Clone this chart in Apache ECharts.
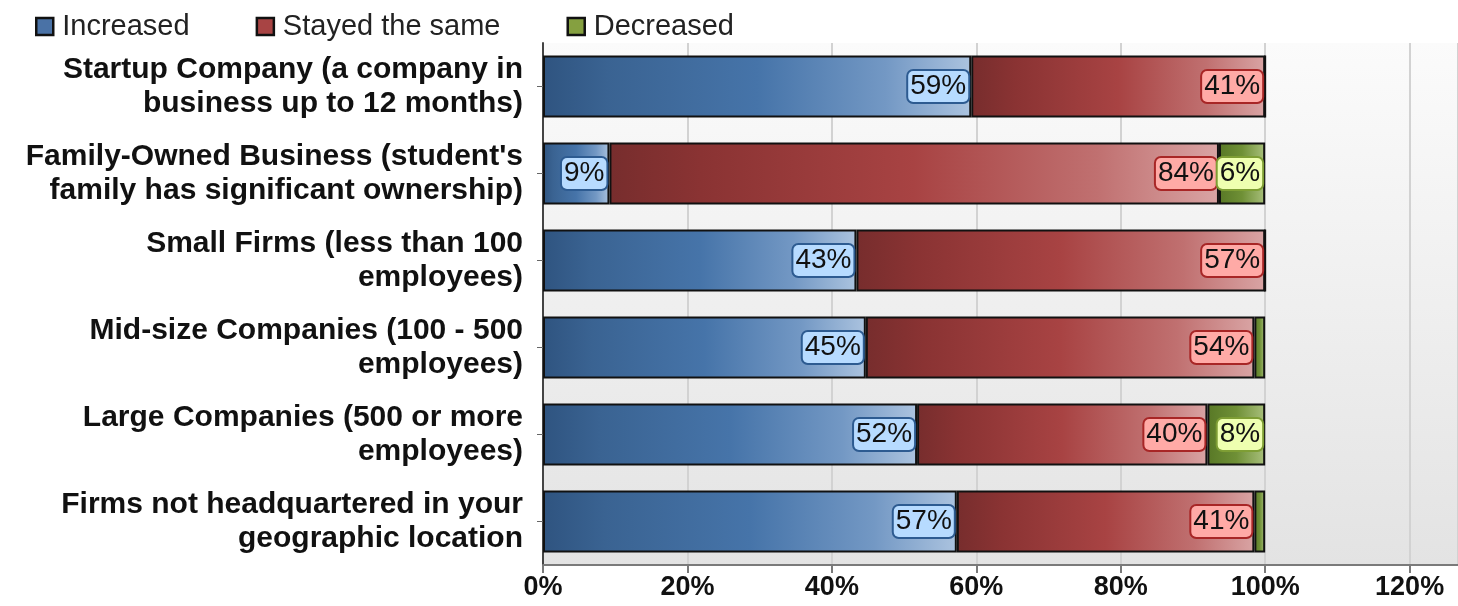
<!DOCTYPE html>
<html>
<head>
<meta charset="utf-8">
<script src="https://cdn.jsdelivr.net/npm/echarts@6/dist/echarts.min.js"></script>
<style>
  html, body { margin: 0; padding: 0; background: #fff; }
  #chart { width: 1458px; height: 606px; }
</style>
</head>
<body>
<div id="chart"></div>
<script>
// categories, top to bottom
var categories = [
  "Startup Company (a company in\nbusiness up to 12 months)",
  "Family-Owned Business (student's\nfamily has significant ownership)",
  "Small Firms (less than 100\nemployees)",
  "Mid-size Companies (100 - 500\nemployees)",
  "Large Companies (500 or more\nemployees)",
  "Firms not headquartered in your\ngeographic location"
];
var increased = [59.3, 9.2, 43.4, 44.7, 51.8, 57.3];
var stayedSame = [40.7, 84.4, 56.6, 53.8, 40.2, 41.2];
var decreased = [0, 6.4, 0, 1.5, 8.0, 1.5];

function grad(stops) {
  return {
    type: 'linear', x: 0, y: 0, x2: 1, y2: 0,
    colorStops: stops.map(function (s) { return { offset: s[0], color: s[1] }; })
  };
}

var blueGrad = grad([[0, '#2f5480'], [0.15, '#3a6392'], [0.5, '#4674a9'], [0.8, '#7398c4'], [1, '#abc3df']]);
var redGrad = grad([[0, '#772d2d'], [0.15, '#8a3333'], [0.5, '#a84343'], [0.8, '#c07070'], [1, '#d9a4a4']]);
var greenGrad = grad([[0, '#587826'], [0.5, '#6f9036'], [1, '#a9c07c']]);

// label boxes (fill, border)
function labelStyle(fill, border) {
  return {
    position: 'insideRight',
    distance: 3,
    fontFamily: 'Liberation Sans',
    fontSize: 28,
    lineHeight: 28,
    color: '#111',
    backgroundColor: fill,
    borderColor: border,
    borderWidth: 2,
    borderRadius: 5,
    padding: [2, 2, 1, 2],
    formatter: function (p) { return Math.round(p.value) + '%'; }
  };
}

function items(arr) {
  return arr.map(function (v) {
    return { value: v, label: { show: v >= 5 } };
  });
}

var chart = echarts.init(document.getElementById('chart'));

var option = {
  animation: false,
  legend: {
    left: 30,
    top: 7,
    itemWidth: 17,
    itemHeight: 17,
    itemGap: 66,
    icon: 'rect',
    textStyle: { fontFamily: 'Liberation Sans', fontSize: 29, color: '#222', padding: [0, 0, 0, 4] },
    data: [
      { name: 'Increased', itemStyle: { color: '#4a72a6', borderColor: '#111', borderWidth: 2.5 } },
      { name: 'Stayed the same', itemStyle: { color: '#a84444', borderColor: '#111', borderWidth: 2.5 } },
      { name: 'Decreased', itemStyle: { color: '#85a040', borderColor: '#111', borderWidth: 2.5 } }
    ]
  },
  grid: {
    left: 543,
    right: 0,
    top: 43,
    bottom: 41,
    show: true,
    borderWidth: 0,
    backgroundColor: {
      type: 'linear', x: 0, y: 0, x2: 0, y2: 1,
      colorStops: [{ offset: 0, color: '#fbfbfb' }, { offset: 1, color: '#e3e3e3' }]
    }
  },
  xAxis: {
    type: 'value',
    min: 0,
    max: 126.7,
    interval: 20,
    axisLine: { show: true, lineStyle: { color: '#7a7a7a', width: 2 } },
    axisTick: { show: true, length: 8, lineStyle: { color: '#7a7a7a', width: 2 } },
    splitLine: { show: true, lineStyle: { color: '#d2d2d2', width: 2 } },
    axisLabel: {
      showMaxLabel: false,
      margin: 9,
      fontFamily: 'Liberation Sans',
      fontWeight: 'bold',
      fontSize: 27,
      color: '#111',
      formatter: function (v) { return v % 20 === 0 ? v + '%' : ''; }
    }
  },
  yAxis: {
    type: 'category',
    inverse: true,
    data: categories,
    axisLine: { show: true, lineStyle: { color: '#444', width: 2 } },
    axisTick: { show: true, alignWithLabel: true, length: 6, lineStyle: { color: '#666' } },
    axisLabel: {
      margin: 20,
      fontFamily: 'Liberation Sans',
      fontWeight: 'bold',
      fontSize: 30,
      lineHeight: 34,
      color: '#111',
      align: 'right'
    }
  },
  series: [
    {
      name: 'Increased', type: 'bar', stack: 'all', barWidth: 62,
      itemStyle: { color: blueGrad, borderColor: '#111', borderWidth: 2 },
      label: labelStyle('#b7dbff', '#2d5b91'),
      data: items(increased)
    },
    {
      name: 'Stayed the same', type: 'bar', stack: 'all', barWidth: 62,
      itemStyle: { color: redGrad, borderColor: '#111', borderWidth: 2 },
      label: labelStyle('#ffaaa6', '#a82626'),
      data: items(stayedSame)
    },
    {
      name: 'Decreased', type: 'bar', stack: 'all', barWidth: 62,
      itemStyle: { color: greenGrad, borderColor: '#111', borderWidth: 2 },
      label: labelStyle('#eeffb0', '#7e9e34'),
      data: items(decreased)
    }
  ]
};

chart.setOption(option);
</script>
</body>
</html>
